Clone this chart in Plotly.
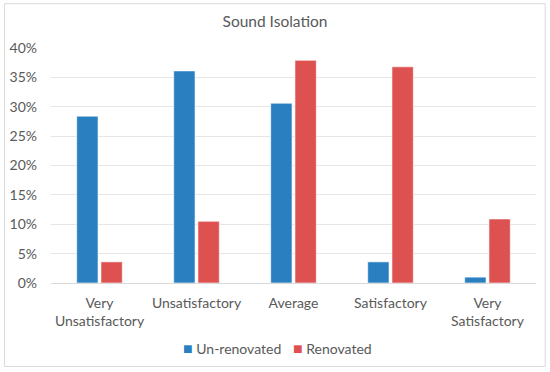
import plotly.graph_objects as go

categories = ["Very<br>Unsatisfactory", "Unsatisfactory", "Average", "Satisfactory", "Very<br>Satisfactory"]
unrenovated = [28.4, 36.1, 30.6, 3.6, 1.0]
renovated = [3.6, 10.5, 37.9, 36.8, 10.9]
series_names = ["Un-renovated", "Renovated"]
y_ticks = [0, 5, 10, 15, 20, 25, 30, 35, 40]
y_tick_labels = [f"{v}%" for v in y_ticks]

FONT = "Lato, Open Sans, sans-serif"
GREY = "#595959"
BLUE = "#2a7fc1"
RED = "#de5151"
FS = 14

fig = go.Figure()
fig.add_trace(go.Bar(x=categories, y=unrenovated, name=series_names[0],
                     marker=dict(color=BLUE, line=dict(color="#ffffff", width=0.6))))
fig.add_trace(go.Bar(x=categories, y=renovated, name=series_names[1],
                     marker=dict(color=RED, line=dict(color="#ffffff", width=0.6))))

legend_y = -0.275
fig.update_layout(
    width=550, height=372,
    margin=dict(l=51, r=14.3, t=48.3, b=88.7),
    paper_bgcolor="white", plot_bgcolor="white",
    barmode="group", bargap=0.5, bargroupgap=0.12,
    showlegend=False,
    title=dict(text="Sound Isolation", x=0.5, xanchor="center", y=1 - 22 / 372, yanchor="middle",
               font=dict(family=FONT, size=15.5, color=GREY)),
    font=dict(family=FONT, size=FS, color=GREY),
    xaxis=dict(showgrid=False, showline=True, linecolor="#d9d9d9", linewidth=1, automargin=False,
               tickfont=dict(family=FONT, size=FS, color=GREY), ticks="", ticklabelstandoff=7),
    yaxis=dict(range=[0, 40], tickvals=y_ticks, ticktext=y_tick_labels, automargin=False,
               showgrid=True, gridcolor="#e6e6e6", gridwidth=1, zeroline=False,
               tickfont=dict(family=FONT, size=FS, color=GREY), ticks="", ticklabelstandoff=13),
    shapes=[dict(type="rect", xref="paper", yref="paper", x0=-0.0959, x1=1.019, y0=-0.355, y1=1.1885,
                 line=dict(color="#d9d9d9", width=1), fillcolor="rgba(0,0,0,0)", layer="below")],
    annotations=[
        dict(xref="paper", yref="paper", x=0.268, y=legend_y, xanchor="left", yanchor="middle", showarrow=False,
             text=f'<span style="color:{BLUE};font-size:16px">■</span> {series_names[0]}',
             font=dict(family=FONT, size=FS, color=GREY)),
        dict(xref="paper", yref="paper", x=0.494, y=legend_y, xanchor="left", yanchor="middle", showarrow=False,
             text=f'<span style="color:{RED};font-size:16px">■</span> {series_names[1]}',
             font=dict(family=FONT, size=FS, color=GREY)),
    ],
)

fig.write_html("out.html", config={"displayModeBar": False},
               post_script="document.body.style.margin='0px';")
